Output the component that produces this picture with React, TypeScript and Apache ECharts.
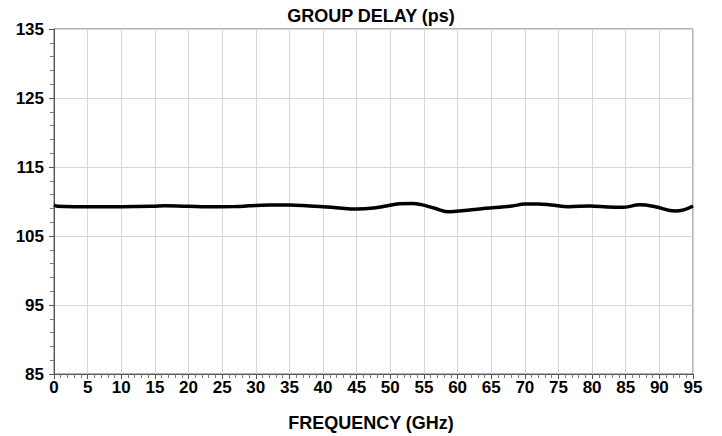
import React, { useEffect, useRef } from "react";
import * as echarts from "echarts";

const chartTitle = "GROUP DELAY (ps)";
const xTitle = "FREQUENCY (GHz)";

const freqGHz = [
  0, 0.5, 3, 10, 14.6, 16.5, 18.5, 22, 27, 29, 32, 35, 38, 40, 42.5, 45, 47.5,
  49.4, 51.3, 53.3, 54.6, 56.5, 58.8, 61, 63.6, 66.2, 68.1, 70, 72, 73.9, 76.5,
  79.7, 82.3, 84.5, 87.1, 89.4, 92.3, 93.6, 95,
];
const delayPs = [
  109.45, 109.3, 109.25, 109.25, 109.3, 109.38, 109.35, 109.25, 109.27, 109.38,
  109.5, 109.5, 109.35, 109.25, 109.05, 108.92, 109.05, 109.35, 109.68, 109.72,
  109.55, 109.05, 108.5, 108.7, 108.95, 109.15, 109.35, 109.62, 109.65, 109.5,
  109.25, 109.35, 109.2, 109.15, 109.52, 109.25, 108.62, 108.78, 109.35,
];

const xMin = 0;
const xMax = 95;
const xStep = 5;
const yMin = 85;
const yMax = 135;
const yStep = 10;

const FONT = "'Liberation Sans', Arial, sans-serif";

export default function App() {
  const ref = useRef<HTMLDivElement>(null);
  useEffect(() => {
    if (!ref.current) return;
    const chart = echarts.init(ref.current, undefined, { renderer: "svg" });
    const data = freqGHz.map((f, i) => [f, delayPs[i]]);
    chart.setOption({
      animation: false,
      backgroundColor: "#ffffff",
      grid: {
        left: 54,
        top: 29,
        right: 29,
        bottom: 62,
        show: true,
        borderColor: "#666666",
        borderWidth: 1,
        backgroundColor: "transparent",
      },
      graphic: [
        {
          type: "text",
          x: 371,
          y: 16,
          style: {
            text: chartTitle,
            font: `bold 18px ${FONT}`,
            fill: "#000000",
            textAlign: "center",
            textVerticalAlign: "middle",
          },
        },
        {
          type: "text",
          x: 371,
          y: 423,
          style: {
            text: xTitle,
            font: `bold 18px ${FONT}`,
            fill: "#000000",
            textAlign: "center",
            textVerticalAlign: "middle",
          },
        },
      ],
      xAxis: {
        type: "value",
        min: xMin,
        max: xMax,
        interval: xStep,
        axisLine: { show: true, onZero: false, lineStyle: { color: "#555555", width: 1 } },
        axisTick: { show: true, length: 5, lineStyle: { color: "#555555" } },
        minorTick: { show: true, splitNumber: 5, length: 4, lineStyle: { color: "#777777" } },
        splitLine: { show: true, lineStyle: { color: "#d6d6d6", width: 1 } },
        axisLabel: {
          margin: 5,
          color: "#000000",
          fontFamily: FONT,
          fontWeight: "bold",
          fontSize: 17,
        },
      },
      yAxis: {
        type: "value",
        min: yMin,
        max: yMax,
        interval: yStep,
        axisLine: { show: true, onZero: false, lineStyle: { color: "#555555", width: 1 } },
        axisTick: { show: true, length: 5, lineStyle: { color: "#555555" } },
        minorTick: { show: true, splitNumber: 5, length: 4, lineStyle: { color: "#777777" } },
        splitLine: { show: true, lineStyle: { color: "#d6d6d6", width: 1 } },
        axisLabel: {
          margin: 10,
          color: "#000000",
          fontFamily: FONT,
          fontWeight: "bold",
          fontSize: 17,
        },
      },
      series: [
        {
          type: "line",
          data,
          smooth: 0.4,
          showSymbol: false,
          symbol: "none",
          lineStyle: { color: "#000000", width: 3.5 },
        },
      ],
    });
    return () => chart.dispose();
  }, []);
  return (
    <div
      ref={ref}
      style={{ position: "absolute", left: 0, top: 0, width: 722, height: 436 }}
    />
  );
}
